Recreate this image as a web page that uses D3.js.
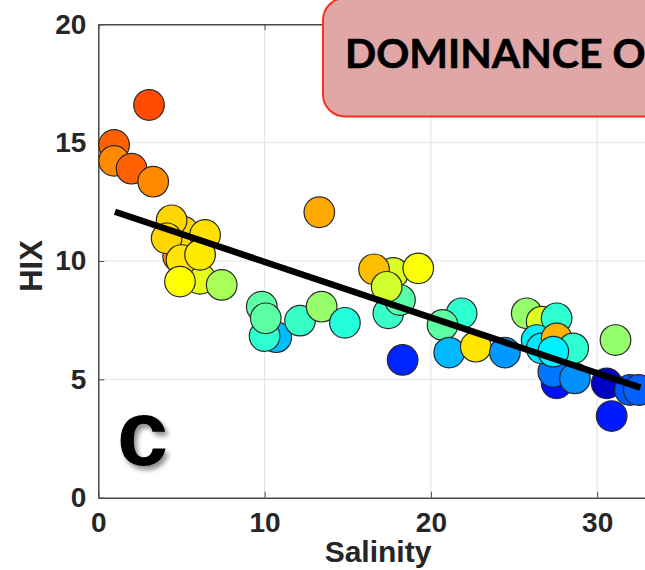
<!DOCTYPE html>
<html>
<head>
<meta charset="utf-8">
<script src="https://cdn.jsdelivr.net/npm/d3@7"></script>
<style>
  html, body { margin: 0; padding: 0; background: #fff; overflow: hidden; }
  svg { display: block; }
</style>
</head>
<body>
<svg id="chart" width="645" height="570"></svg>
<script>
// ---- data ----
const salinity = [3.05, 0.95, 0.95, 2.0, 3.3,
  4.8, 6.12, 5.11, 4.41, 4.11, 5.0, 6.42, 6.12, 4.91, 7.42,
  9.83, 10.7, 10.0, 10.07, 12.13, 13.43, 14.83, 13.29,
  17.74, 17.44, 18.14, 16.58, 17.34, 19.24, 18.3,
  21.85, 20.7, 21.1, 22.7, 24.45,
  25.76, 26.66, 27.56, 27.56, 27.36, 28.66, 26.36, 26.66, 27.56, 28.56, 27.36,
  31.1, 30.57, 30.87, 31.97, 32.5];
const hix = [16.59, 14.9, 14.23, 13.9, 13.35,
  10.2, 9.25, 11.24, 11.72, 10.96, 10.04, 11.1, 10.26, 9.13, 8.99,
  8.07, 6.78, 6.83, 7.58, 7.48, 8.07, 7.39, 12.06,
  9.5, 7.79, 8.35, 9.65, 8.91, 9.69, 5.82,
  7.79, 7.3, 6.13, 6.38, 6.13,
  7.79, 7.44, 7.58, 4.83, 5.32, 5.04, 6.66, 6.31, 6.73, 6.31, 6.17,
  6.66, 4.83, 3.45, 4.55, 4.55];
// third variable shown by colour (position along the jet colormap, 0..1)
const colourValue = [0.80, 0.78, 0.74, 0.78, 0.74,
  0.74, 0.60, 0.665, 0.665, 0.665, 0.65, 0.655, 0.645, 0.625, 0.54,
  0.465, 0.31, 0.42, 0.465, 0.43, 0.52, 0.41, 0.71,
  0.59, 0.43, 0.46, 0.69, 0.58, 0.62, 0.16,
  0.42, 0.465, 0.305, 0.65, 0.275,
  0.52, 0.59, 0.42, 0.14, 0.24, 0.265, 0.36, 0.355, 0.70, 0.42, 0.36,
  0.52, 0.07, 0.15, 0.21, 0.22];
// regression line end points
const fitSalinity = [1.0, 32.6];
const fitHix = [12.08, 4.65];

const xTicks = [0, 10, 20, 30];
const yTicks = [0, 5, 10, 15, 20];
const xLabel = "Salinity";
const yLabel = "HIX";
const boxText = "DOMINANCE OF";
const panelLetter = "c";

// ---- layout ----
const svg = d3.select("#chart");
const x = d3.scaleLinear().domain([0, 40]).range([98.3, 98.3 + 16.63 * 40]);
const y = d3.scaleLinear().domain([0, 20]).range([497.7, 24.3]);

function jet(v) {
  const c = t => Math.max(0, Math.min(1, t));
  const r = c(1.5 - Math.abs(4 * v - 3));
  const g = c(1.5 - Math.abs(4 * v - 2));
  const b = c(1.5 - Math.abs(4 * v - 1));
  return d3.rgb(r * 255, g * 255, b * 255).formatHex();
}

const defs = svg.append("defs");
const f = defs.append("filter").attr("id", "shadow").attr("x", "-50%").attr("y", "-50%").attr("width", "200%").attr("height", "200%");
f.append("feDropShadow").attr("dx", 3).attr("dy", 4).attr("stdDeviation", 2.5)
  .attr("flood-color", "#000").attr("flood-opacity", 0.45);
defs.append("clipPath").attr("id", "boxclip")
  .append("rect").attr("x", 0).attr("y", 0).attr("width", 645).attr("height", 570);

// grid
const g = svg.append("g");
g.selectAll("line.gx").data(xTicks.filter(d => d > 0)).join("line")
  .attr("x1", d => x(d)).attr("x2", d => x(d))
  .attr("y1", y(0)).attr("y2", y(20))
  .attr("stroke", "#e3e3e3").attr("stroke-width", 1);
g.selectAll("line.gy").data(yTicks.filter(d => d > 0 && d < 20)).join("line")
  .attr("x1", x(0)).attr("x2", x(40))
  .attr("y1", d => y(d)).attr("y2", d => y(d))
  .attr("stroke", "#e3e3e3").attr("stroke-width", 1);

// axes
const axisColor = "#4a4a4a";
const xAxisB = d3.axisBottom(x).tickValues(xTicks).tickSizeInner(-6).tickSizeOuter(0).tickPadding(14);
const yAxisL = d3.axisLeft(y).tickValues(yTicks).tickSizeInner(-6).tickSizeOuter(0).tickPadding(12);
const xAxisT = d3.axisTop(x).tickValues(xTicks).tickSizeInner(-6).tickSizeOuter(0).tickFormat("");

function styleAxis(sel) {
  sel.select(".domain").attr("stroke", axisColor).attr("stroke-width", 1.5);
  sel.selectAll(".tick line").attr("stroke", axisColor).attr("stroke-width", 1);
  sel.selectAll(".tick text")
    .attr("fill", "#262626")
    .style("font-family", "'Liberation Sans', Arial, sans-serif")
    .style("font-weight", "bold")
    .style("font-size", "28px");
}
svg.append("g").attr("transform", `translate(0,${y(20)})`).call(xAxisT).call(styleAxis);
svg.append("g").attr("transform", `translate(0,${y(0)})`).call(xAxisB).call(styleAxis);
svg.append("g").attr("transform", `translate(${x(0)},0)`).call(yAxisL).call(styleAxis);

// points
const pts = salinity.map((s, i) => ({ s, h: hix[i], c: colourValue[i] }));
svg.append("g").selectAll("circle").data(pts).join("circle")
  .attr("cx", d => x(d.s)).attr("cy", d => y(d.h)).attr("r", 15.3)
  .attr("fill", d => jet(d.c))
  .attr("stroke", "#2a2a2a").attr("stroke-width", 1.2);

// regression line
svg.append("path")
  .datum(fitSalinity.map((s, i) => [s, fitHix[i]]))
  .attr("d", d3.line().x(d => x(d[0])).y(d => y(d[1])))
  .attr("stroke", "#000").attr("stroke-width", 6.5).attr("fill", "none");

// axis labels
svg.append("text").text(xLabel)
  .attr("x", 378).attr("y", 562).attr("text-anchor", "middle")
  .attr("fill", "#262626")
  .style("font-family", "'Liberation Sans', Arial, sans-serif")
  .style("font-weight", "bold").style("font-size", "30px");
svg.append("text").text(yLabel)
  .attr("transform", "translate(42,266) rotate(-90)")
  .attr("text-anchor", "middle")
  .attr("fill", "#262626")
  .style("font-family", "'Liberation Sans', Arial, sans-serif")
  .style("font-weight", "bold").style("font-size", "31px");

// panel letter
svg.append("text").text(panelLetter)
  .attr("x", 117).attr("y", 465)
  .attr("fill", "#000")
  .attr("filter", "url(#shadow)")
  .style("font-family", "'Liberation Sans', Arial, sans-serif")
  .style("font-weight", "bold").style("font-size", "92px");

// annotation box (runs off the right edge, as in the reference)
const box = svg.append("g").attr("clip-path", "url(#boxclip)");
box.append("rect")
  .attr("x", 323).attr("y", -2).attr("width", 420).attr("height", 118.5)
  .attr("rx", 22).attr("ry", 22)
  .attr("fill", "#e1a7a6").attr("stroke", "#f5321e").attr("stroke-width", 2);
box.append("text").text(boxText)
  .attr("x", 345).attr("y", 68)
  .attr("fill", "#000")
  .attr("stroke", "#000").attr("stroke-width", 0.6)
  .style("font-family", "Lato, 'Open Sans', sans-serif")
  .style("font-weight", "bold").style("font-size", "41px");
</script>
</body>
</html>
